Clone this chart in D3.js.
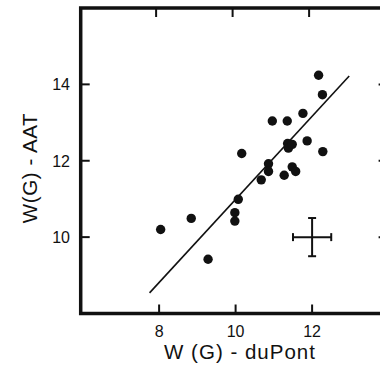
<!DOCTYPE html>
<html>
<head>
<meta charset="utf-8">
<title>W(G) AAT vs duPont</title>
<script src="https://cdnjs.cloudflare.com/ajax/libs/d3/7.8.5/d3.min.js"></script>
<style>
body { margin: 0; background: #fff; overflow: hidden; }
text { font-family: "Liberation Sans", Arial, sans-serif; fill: #111; }
.tick-label { font-size: 16px; }
.axis-title { font-size: 20.5px; }
</style>
</head>
<body>
<div id="chart"></div>
<script>
// values
var wDupont = [8.04, 8.84, 9.28, 9.98, 9.98, 10.07, 10.16, 10.67, 10.86, 10.86, 10.96, 11.27,
               11.35, 11.36, 11.38, 11.48, 11.48, 11.57, 11.76, 11.87, 12.17, 12.27, 12.28];
var wAAT    = [10.20, 10.49, 9.42, 10.64, 10.42, 10.99, 12.19, 11.50, 11.92, 11.72, 13.04, 11.62,
               13.04, 12.45, 12.33, 12.43, 11.84, 11.72, 13.24, 12.52, 14.24, 13.73, 12.24];
var fitX = [7.75, 12.97];
var fitY = [8.54, 14.22];
var errX = 12.0, errY = 10.0, errHalf = 0.5;
var xTicks = [8, 10, 12];
var yTicks = [10, 12, 14];

var svg = d3.select('#chart').append('svg')
  .attr('width', 380)
  .attr('height', 375);

var x = d3.scaleLinear().domain([5.95, 14]).range([80.7, 388.6]);
var y = d3.scaleLinear().domain([8, 16]).range([313.5, 8]);

var ink = '#111';

// frame
svg.append('rect')
  .attr('x', x(5.95)).attr('y', y(16))
  .attr('width', x(14) - x(5.95)).attr('height', y(8) - y(16))
  .attr('fill', 'none').attr('stroke', ink).attr('stroke-width', 3.5);

// inward ticks on all four sides
var tl = 9;
svg.append('g').selectAll('line').data(xTicks).join('line')
  .attr('x1', d => x(d)).attr('x2', d => x(d))
  .attr('y1', y(8)).attr('y2', y(8) - tl)
  .attr('stroke', ink).attr('stroke-width', 2);
svg.append('g').selectAll('line').data(xTicks).join('line')
  .attr('x1', d => x(d) - 3).attr('x2', d => x(d) - 3)
  .attr('y1', y(16)).attr('y2', y(16) + tl)
  .attr('stroke', ink).attr('stroke-width', 2);
svg.append('g').selectAll('line').data(yTicks).join('line')
  .attr('x1', x(5.95)).attr('x2', x(5.95) + tl)
  .attr('y1', d => y(d)).attr('y2', d => y(d))
  .attr('stroke', ink).attr('stroke-width', 2);
svg.append('g').selectAll('line').data(yTicks).join('line')
  .attr('x1', x(14)).attr('x2', x(14) - tl - 1)
  .attr('y1', d => y(d)).attr('y2', d => y(d))
  .attr('stroke', ink).attr('stroke-width', 2);

// tick labels
svg.append('g').selectAll('text').data(xTicks).join('text')
  .attr('class', 'tick-label')
  .attr('x', d => x(d)).attr('y', 336.5)
  .attr('text-anchor', 'middle')
  .text(d => d);
svg.append('g').selectAll('text').data(yTicks).join('text')
  .attr('class', 'tick-label')
  .attr('x', 70).attr('y', d => y(d) + 6)
  .attr('text-anchor', 'end')
  .text(d => d);

// axis titles
svg.append('text')
  .attr('class', 'axis-title')
  .attr('x', 240).attr('y', 359)
  .attr('text-anchor', 'middle')
  .attr('letter-spacing', 1)
  .text('W (G) - duPont');
svg.append('text')
  .attr('class', 'axis-title')
  .attr('transform', 'translate(36.5,168) rotate(-90)')
  .attr('text-anchor', 'middle')
  .attr('letter-spacing', 0.6)
  .text('W(G) - AAT');

// fit line
svg.append('line')
  .attr('x1', x(fitX[0])).attr('y1', y(fitY[0]))
  .attr('x2', x(fitX[1])).attr('y2', y(fitY[1]))
  .attr('stroke', ink).attr('stroke-width', 1.6);

// points
svg.append('g').selectAll('circle').data(wDupont).join('circle')
  .attr('cx', d => x(d))
  .attr('cy', (d, i) => y(wAAT[i]))
  .attr('r', 4.7)
  .attr('fill', ink);

// typical error bar
var eb = svg.append('g').attr('stroke', ink).attr('stroke-width', 2);
eb.append('line')
  .attr('x1', x(errX - errHalf)).attr('x2', x(errX + errHalf))
  .attr('y1', y(errY)).attr('y2', y(errY));
eb.append('line')
  .attr('x1', x(errX)).attr('x2', x(errX))
  .attr('y1', y(errY - errHalf)).attr('y2', y(errY + errHalf));
[errX - errHalf, errX + errHalf].forEach(function (v) {
  eb.append('line')
    .attr('x1', x(v)).attr('x2', x(v))
    .attr('y1', y(errY) - 4).attr('y2', y(errY) + 4);
});
[errY - errHalf, errY + errHalf].forEach(function (v) {
  eb.append('line')
    .attr('x1', x(errX) - 4).attr('x2', x(errX) + 4)
    .attr('y1', y(v)).attr('y2', y(v));
});
</script>
</body>
</html>
